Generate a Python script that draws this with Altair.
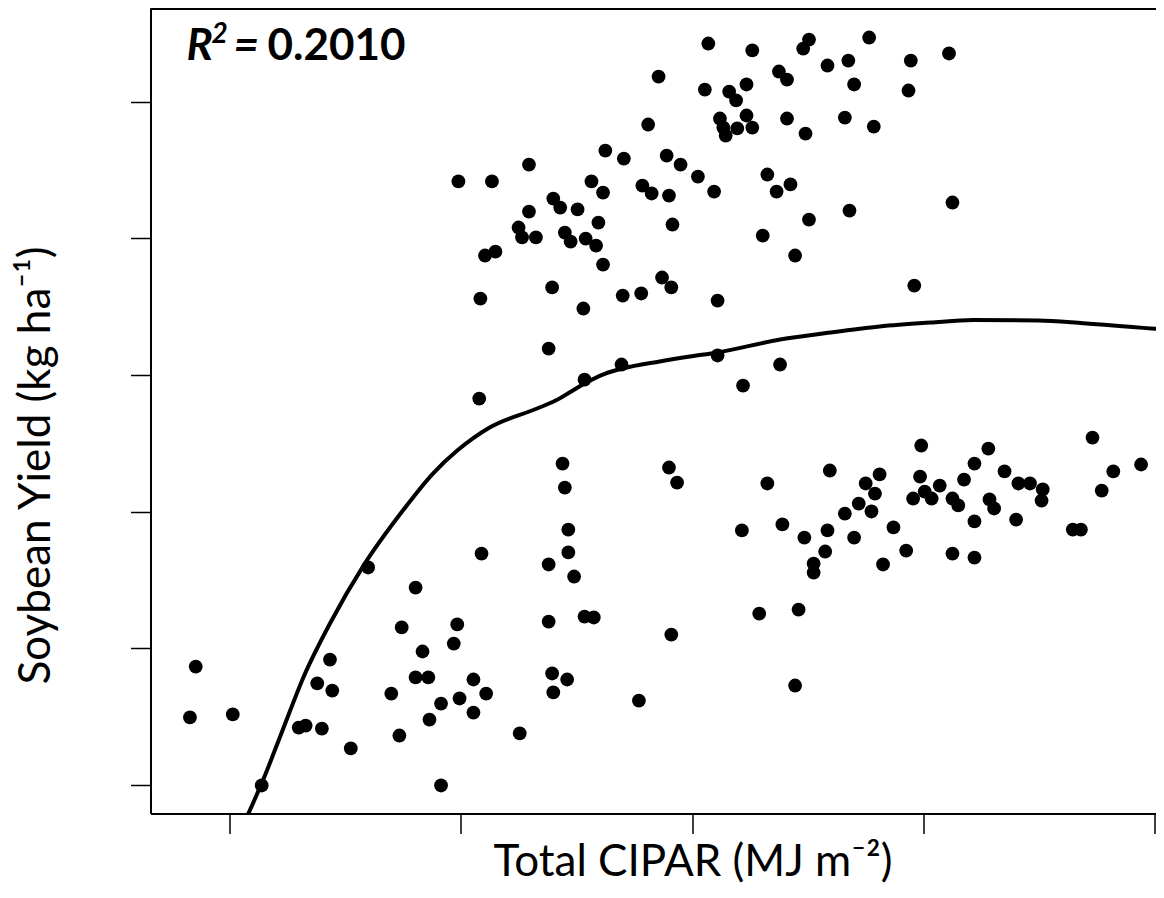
import altair as alt
import pandas as pd

# Observed points: total CIPAR (MJ m-2) and soybean yield (kg ha-1)
cipar = [1014, 1052, 1096, 1101, 1117, 971, 1075, 1082, 1011, 1032, 1038, 1047, 1024, 1027, 1029, 1039,
         1047, 1052, 1082, 1098, 962, 925, 941, 978, 990, 1005, 1019, 1065, 1073, 1085, 859, 827,
         913, 923, 957, 965, 980, 880, 886, 901, 859, 850, 853, 865, 890, 895, 908, 917,
         919, 983, 830, 821, 923, 1061, 1101, 1089, 879, 906, 940, 956, 974, 982, 1022, 876,
         939, 907, 1022, 1076, 1044, 1153, 1135, 1189, 1222, 1140, 1187, 1132, 1157, 1136, 1225, 1192,
         798, 817, 816, 818, 720, 761, 749, 797, 794, 687, 767, 571, 676, 689, 761, 772,
         811, 822, 740, 783, 799, 811, 773, 566, 603, 660, 666, 680, 747, 705, 783, 628,
         888, 980, 987, 890, 1065, 1119, 893, 1043, 1078, 1097, 1117, 893, 1115, 1105, 1105, 876,
         898, 876, 907, 915, 982, 1058, 1092, 879, 892, 880, 954, 1089, 851, 1198, 1256, 1346,
         1244, 1162, 1150, 1197, 1270, 1235, 1214, 1158, 1201, 1207, 1191, 1225, 1230, 1282, 1292, 1303,
         1302, 1257, 1261, 1364, 1388, 1354, 1144, 1155, 1132, 1244, 1280, 1174, 1329, 1336, 1140, 1185,
         1225, 1244, 1165]
yield_kg = [6427, 6376, 6390, 6456, 6266, 6185, 6222, 6163, 6090, 6075, 6010, 6127, 5878, 5812, 5753, 5805,
            5900, 5812, 5878, 5768, 5834, 5643, 5585, 5607, 5541, 5453, 5343, 5468, 5343, 5395, 5541, 5417,
            5417, 5336, 5387, 5329, 5314, 5292, 5226, 5212, 5197, 5080, 5007, 5007, 5043, 4977, 4999, 4948,
            5116, 5102, 4904, 4875, 4809, 5021, 5138, 4875, 4641, 4487, 4582, 4597, 4714, 4641, 4545, 4194,
            4077, 3967, 4143, 4077, 3923, 6471, 6302, 6302, 6354, 6127, 6083, 5885, 5819, 5204, 5263, 4655,
            5417, 4560, 3828, 2693, 2591, 2444, 2152, 2174, 2034, 1917, 1976, 1866, 1742, 1690, 1786, 1786,
            1771, 1668, 1668, 1595, 1632, 1529, 1478, 1493, 1515, 1419, 1434, 1412, 1361, 1266, 995, 995,
            3352, 3323, 3213, 3176, 3206, 3301, 2869, 2862, 2906, 2810, 2862, 2701, 2708, 2620, 2554, 2613,
            2525, 2195, 2232, 2225, 2100, 2254, 2283, 1815, 1771, 1676, 1617, 1727, 1376, 3484, 3462, 3542,
            3352, 3272, 3206, 3257, 3294, 3235, 3191, 3132, 3147, 3096, 3096, 3096, 3045, 3206, 3206, 3162,
            3081, 3089, 3023, 3294, 3345, 3154, 3059, 3001, 2986, 2928, 2942, 2884, 2869, 2869, 2810, 2715,
            2693, 2664, 2613]

# Fitted curve
fit_x = [613, 629, 646, 664, 687, 716, 750, 776, 797, 825, 866, 882, 894, 907, 925, 940,
         972, 998, 1022, 1076, 1119, 1162, 1206, 1243, 1299, 1338, 1400]
fit_y = [724, 1031, 1398, 1786, 2181, 2605, 3008, 3279, 3447, 3616, 3755, 3813, 3872, 3938, 4011, 4048,
         4099, 4135, 4165, 4260, 4311, 4355, 4384, 4403, 4399, 4379, 4338]

x_ticks = [600, 800, 1000, 1200, 1400]
y_ticks = [1000, 2000, 3000, 4000, 5000, 6000]

X_DOMAIN = [531.9, 1400.9]
Y_DOMAIN = [790, 6687]
W = 1005.5
H = 805.5
FONT = "Lato"

pts = pd.DataFrame({"cipar": cipar, "yield": yield_kg})
fit = pd.DataFrame({"cipar": fit_x, "yield": fit_y})

xscale = alt.Scale(domain=X_DOMAIN, nice=False, zero=False)
yscale = alt.Scale(domain=Y_DOMAIN, nice=False, zero=False)

xaxis = alt.Axis(values=x_ticks, labels=False, grid=False, tickSize=20, tickWidth=1.5,
                 tickColor="black", domainColor="black", domainWidth=2,
                 title="Total CIPAR (MJ m⁻²)", titleFont=FONT, titleFontSize=44,
                 titleFontWeight="normal", titleColor="black", titleX=542, titleY=62,
                 titleBaseline="alphabetic", titleAlign="center")
yaxis = alt.Axis(values=y_ticks, labels=False, grid=False, tickSize=20, tickWidth=1.5,
                 tickColor="black", domainColor="black", domainWidth=2,
                 title="Soybean Yield (kg ha⁻¹)", titleFont=FONT, titleFontSize=44,
                 titleFontWeight="normal", titleColor="black", titleX=-101, titleY=457,
                 titleBaseline="alphabetic", titleAlign="center", titleAngle=270)

points = alt.Chart(pts).mark_circle(size=190, color="black", opacity=1).encode(
    x=alt.X("cipar:Q", scale=xscale, axis=xaxis),
    y=alt.Y("yield:Q", scale=yscale, axis=yaxis),
)

curve = alt.Chart(fit).mark_line(color="black", strokeWidth=4, clip=True, interpolate="monotone",
                                 strokeCap="round", strokeJoin="round").encode(
    x=alt.X("cipar:Q", scale=xscale),
    y=alt.Y("yield:Q", scale=yscale),
)

one = pd.DataFrame({"k": [0]})
top_border = alt.Chart(one).mark_rule(color="black", strokeWidth=2).encode(
    x=alt.value(0), x2=alt.value(W), y=alt.value(1)
)

r_txt = alt.Chart(one).mark_text(text="R", font=FONT, fontSize=44, fontWeight="bold",
                                 fontStyle="italic", align="left", baseline="alphabetic",
                                 color="black").encode(x=alt.value(36), y=alt.value(52))
sup_txt = alt.Chart(one).mark_text(text="2", font=FONT, fontSize=28, fontWeight="bold",
                                   fontStyle="italic", align="left", baseline="alphabetic",
                                   color="black").encode(x=alt.value(61), y=alt.value(35))
eq_txt = alt.Chart(one).mark_text(text="=", font=FONT, fontSize=44, fontWeight="bold",
                                  fontStyle="italic", align="left", baseline="alphabetic",
                                  color="black").encode(x=alt.value(83), y=alt.value(52))
val_txt = alt.Chart(one).mark_text(text="0.2010", font=FONT, fontSize=44, fontWeight="bold",
                                   align="left", baseline="alphabetic",
                                   color="black").encode(x=alt.value(117), y=alt.value(52))

chart = alt.layer(curve, points, top_border, r_txt, sup_txt, eq_txt, val_txt).properties(
    width=W, height=H,
    autosize=alt.AutoSizeParams(type="none"),
    padding={"left": 142.5, "top": 0, "right": 0, "bottom": 80},
    background="white",
).configure_view(stroke=None)

chart.save("out.html", embed_options={"renderer": "svg", "actions": False})
